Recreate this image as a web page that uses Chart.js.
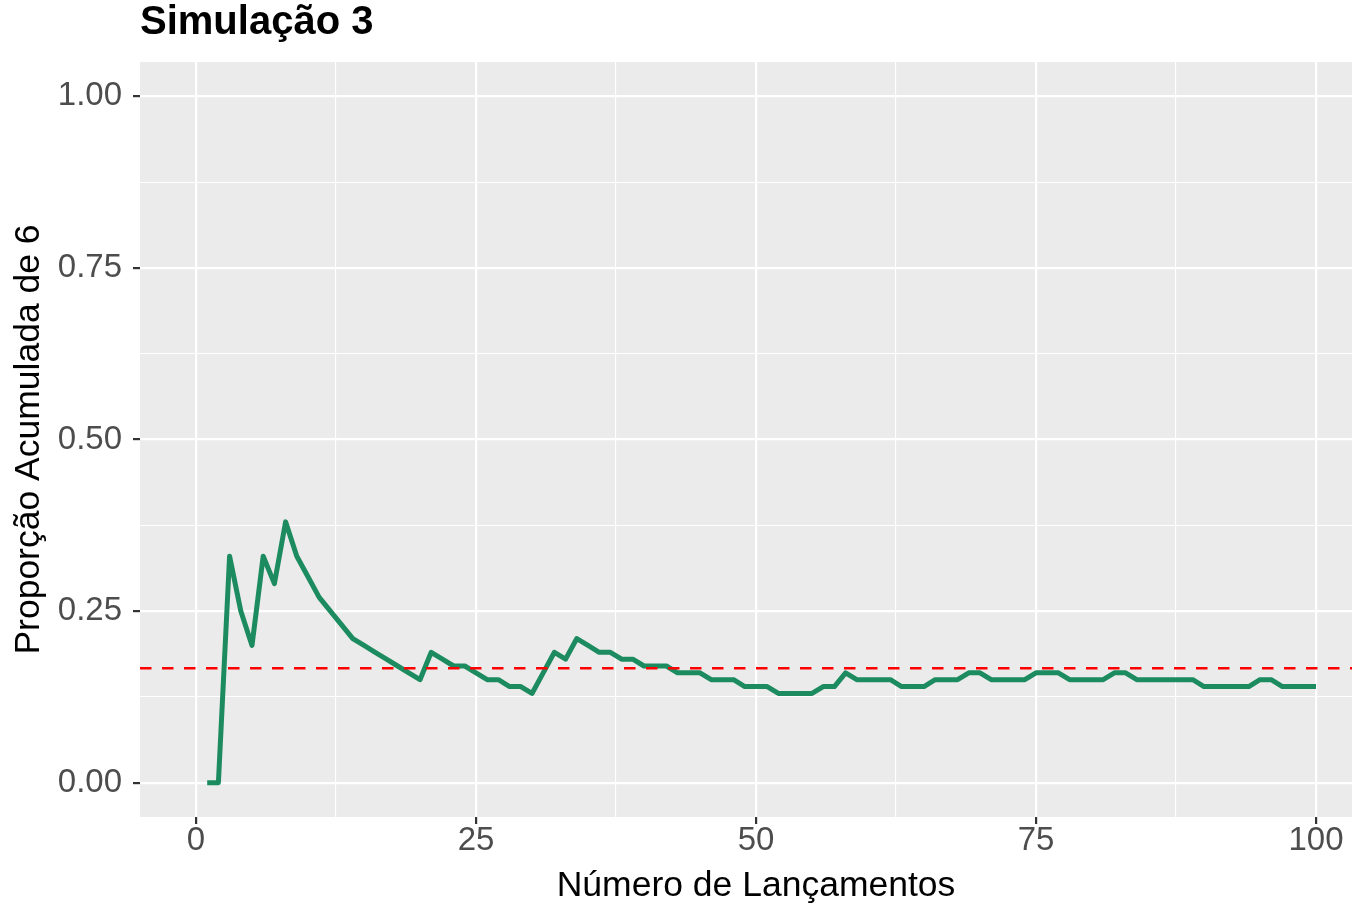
<!DOCTYPE html>
<html>
<head>
<meta charset="utf-8">
<script src="https://cdn.jsdelivr.net/npm/chart.js@4.4.1/dist/chart.umd.min.js"></script>
<style>
  html, body { margin: 0; padding: 0; background: #ffffff; overflow: hidden; }
  #viewport { width: 1352px; height: 905px; overflow: hidden; position: relative; }
  #wrap { width: 1372px; height: 905px; position: absolute; left: 0; top: 0; }
</style>
</head>
<body>
<div id="viewport"><div id="wrap"><canvas id="c"></canvas></div></div>
<script>
// ---- data ----
const chartTitle = 'Simulação 3';
const xAxisTitle = 'Número de Lançamentos';
const yAxisTitle = 'Proporção Acumulada de 6';

const throwNumber = [
  1,2,3,4,5,6,7,8,9,10,
  11,12,13,14,15,16,17,18,19,20,
  21,22,23,24,25,26,27,28,29,30,
  31,32,33,34,35,36,37,38,39,40,
  41,42,43,44,45,46,47,48,49,50,
  51,52,53,54,55,56,57,58,59,60,
  61,62,63,64,65,66,67,68,69,70,
  71,72,73,74,75,76,77,78,79,80,
  81,82,83,84,85,86,87,88,89,90,
  91,92,93,94,95,96,97,98,99,100
];

const cumulativeProportion = [
  0.00,0.00,0.33,0.25,0.20,0.33,0.29,0.38,0.33,0.30,
  0.27,0.25,0.23,0.21,0.20,0.19,0.18,0.17,0.16,0.15,
  0.19,0.18,0.17,0.17,0.16,0.15,0.15,0.14,0.14,0.13,
  0.16,0.19,0.18,0.21,0.20,0.19,0.19,0.18,0.18,0.17,
  0.17,0.17,0.16,0.16,0.16,0.15,0.15,0.15,0.14,0.14,
  0.14,0.13,0.13,0.13,0.13,0.14,0.14,0.16,0.15,0.15,
  0.15,0.15,0.14,0.14,0.14,0.15,0.15,0.15,0.16,0.16,
  0.15,0.15,0.15,0.15,0.16,0.16,0.16,0.15,0.15,0.15,
  0.15,0.16,0.16,0.15,0.15,0.15,0.15,0.15,0.15,0.14,
  0.14,0.14,0.14,0.14,0.15,0.15,0.14,0.14,0.14,0.14
];

const referenceProportion = 1 / 6;

const xMajorTicks = [0, 25, 50, 75, 100];
const xMinorTicks = [12.5, 37.5, 62.5, 87.5];
const yMajorTicks = [0, 0.25, 0.5, 0.75, 1];
const yMinorTicks = [0.125, 0.375, 0.625, 0.875];
const xLimits = [-5, 105];
const yLimits = [-0.05, 1.05];

// ---- rendering ----
const FONT = "'Liberation Sans', Arial, Helvetica, sans-serif";
const isIn = (arr, v) => arr.some(a => Math.abs(a - v) < 1e-9);

const linePoints = throwNumber.map((n, i) => ({ x: n, y: cumulativeProportion[i] }));
const refPoints = xLimits.map(x => ({ x: x, y: referenceProportion }));

const panelBg = {
  id: 'panelBg',
  beforeDraw(chart) {
    const { ctx, chartArea: a } = chart;
    ctx.save();
    ctx.fillStyle = '#ffffff';
    ctx.fillRect(0, 0, chart.width, chart.height);
    ctx.fillStyle = '#EBEBEB';
    ctx.fillRect(a.left, a.top, a.right - a.left, a.bottom - a.top);
    ctx.restore();
  }
};

function setTicks(majors, minors) {
  return function (scale) {
    const all = majors.concat(minors).sort((a, b) => a - b);
    scale.ticks = all.map(v => ({ value: v }));
  };
}

const gridOpts = (majors) => ({
  color: '#FFFFFF',
  lineWidth: ctx => (ctx.tick && isIn(majors, ctx.tick.value)) ? 2.2 : 1.1,
  drawTicks: true,
  tickLength: 7,
  tickWidth: 2.2,
  tickColor: ctx => (ctx.tick && isIn(majors, ctx.tick.value)) ? '#333333' : 'rgba(0,0,0,0)'
});

new Chart(document.getElementById('c'), {
  type: 'line',
  data: {
    datasets: [
      {
        label: 'referencia',
        data: refPoints,
        borderColor: '#FF0000',
        borderWidth: 2.5,
        borderDash: [11.5, 10.5],
        pointRadius: 0,
        fill: false,
        tension: 0
      },
      {
        label: 'proporcao',
        data: linePoints,
        borderColor: '#1D8B60',
        borderWidth: 5,
        borderJoinStyle: 'round',
        borderCapStyle: 'butt',
        pointRadius: 0,
        fill: false,
        tension: 0
      }
    ]
  },
  options: {
    responsive: true,
    maintainAspectRatio: false,
    animation: false,
    devicePixelRatio: 1,
    layout: { padding: 0 },
    plugins: {
      legend: { display: false },
      tooltip: { enabled: false },
      title: {
        display: true,
        text: chartTitle,
        align: 'start',
        fullSize: false,
        color: '#000000',
        font: { family: FONT, size: 40, weight: 'bold', lineHeight: 1 },
        padding: { top: 3, bottom: 19 }
      }
    },
    scales: {
      x: {
        type: 'linear',
        min: xLimits[0],
        max: xLimits[1],
        afterBuildTicks: setTicks(xMajorTicks, xMinorTicks),
        afterFit(scale) { scale.height = 88; },
        border: { display: false },
        grid: gridOpts(xMajorTicks),
        ticks: {
          autoSkip: false,
          maxRotation: 0,
          padding: 0,
          color: '#4D4D4D',
          font: { family: FONT, size: 33, lineHeight: 1 },
          callback: v => isIn(xMajorTicks, v) ? String(v) : ''
        },
        title: {
          display: true,
          text: xAxisTitle,
          color: '#000000',
          font: { family: FONT, size: 35.5, lineHeight: 1 },
          padding: { top: 0, bottom: 1.5 }
        }
      },
      y: {
        type: 'linear',
        min: yLimits[0],
        max: yLimits[1],
        afterBuildTicks: setTicks(yMajorTicks, yMinorTicks),
        afterFit(scale) { scale.width = 140; },
        border: { display: false },
        grid: gridOpts(yMajorTicks),
        ticks: {
          autoSkip: false,
          padding: 11,
          color: '#4D4D4D',
          font: { family: FONT, size: 33, lineHeight: 1 },
          callback: v => isIn(yMajorTicks, v) ? Number(v).toFixed(2) : ''
        },
        title: {
          display: true,
          text: yAxisTitle,
          color: '#000000',
          font: { family: FONT, size: 35.5, lineHeight: 1 },
          padding: { top: 11.75, bottom: 0 }
        }
      }
    }
  },
  plugins: [panelBg]
});
</script>
</body>
</html>
